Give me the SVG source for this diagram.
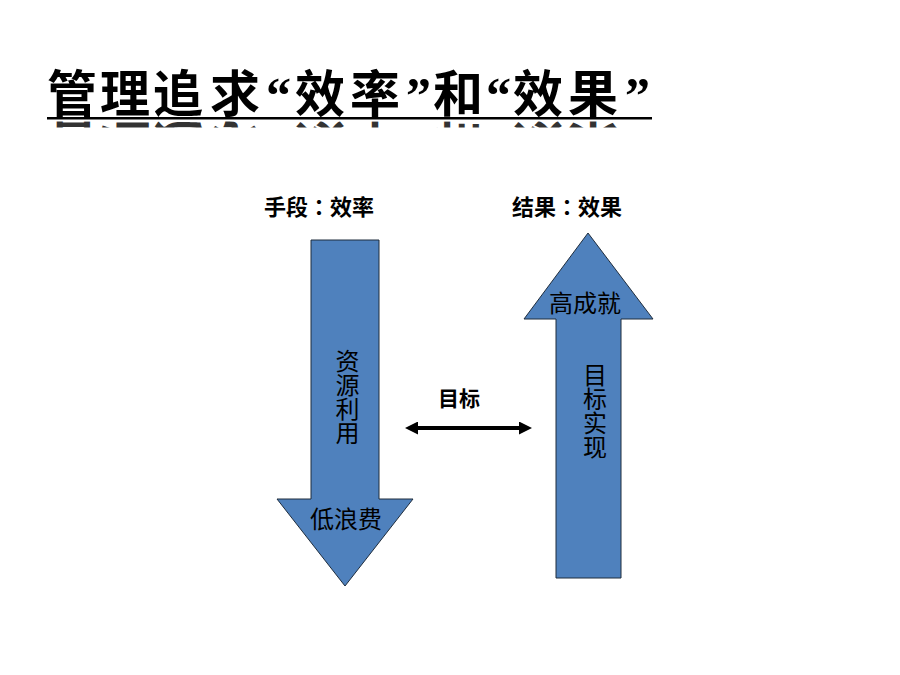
<svg xmlns="http://www.w3.org/2000/svg" xmlns:xlink="http://www.w3.org/1999/xlink" width="900" height="675" viewBox="0 0 900 675">
  <style>
    .cjk { font-family: "Noto Sans CJK SC", "Noto Sans", sans-serif; fill: #000; }
    .title { font-size: 50px; font-weight: 700; }
    .q { font-family: "Liberation Serif", "Noto Sans CJK SC", serif; font-weight: 700; }
    .colon { font-family: "Noto Sans CJK TC", "Noto Sans CJK SC", sans-serif; }
    .sub { font-size: 22px; font-weight: 700; }
    .lbl { font-size: 24px; font-weight: 400; }
    .vert { writing-mode: vertical-rl; text-orientation: upright; }
    .bold21 { font-size: 21px; font-weight: 700; }
    .arrow { fill: #4F81BD; stroke: #1f2d3d; stroke-width: 1; }
    .conn { stroke: #000; stroke-width: 4; fill: none; }
  </style>
  <defs>
    <marker id="head" viewBox="0 0 13 13" refX="3" refY="6.5" markerWidth="13" markerHeight="13" markerUnits="userSpaceOnUse" orient="auto-start-reverse">
      <path d="M0,0 L13,6.5 L0,13 Z" fill="#000"/>
    </marker>
    <clipPath id="reflClip">
      <rect x="0" y="121.5" width="900" height="6"/>
    </clipPath>
  </defs>
  <rect width="900" height="675" fill="#fff"/>

  <g id="title">
    <text id="titleText" class="cjk title" y="112">
      <tspan x="47">管</tspan><tspan x="100">理</tspan><tspan x="153">追</tspan><tspan x="210">求</tspan><tspan class="q" x="266">“</tspan><tspan x="295">效</tspan><tspan x="350">率</tspan><tspan class="q" x="406">”</tspan><tspan x="433">和</tspan><tspan class="q" x="486">“</tspan><tspan x="513">效</tspan><tspan x="568">果</tspan><tspan class="q" x="625">”</tspan>
    </text>
    <rect x="47" y="117" width="605" height="2.5" fill="#000"/>
    <g clip-path="url(#reflClip)" opacity="0.8">
      <use xlink:href="#titleText" href="#titleText" transform="translate(0,238) scale(1,-1)"/>
    </g>
  </g>

  <g id="means-label">
    <text class="cjk sub" x="264" y="215">手段<tspan class="colon">：</tspan>效率</text>
  </g>
  <g id="result-label">
    <text class="cjk sub" x="512" y="215">结果<tspan class="colon">：</tspan>效果</text>
  </g>

  <g id="efficiency-arrow">
    <polygon class="arrow" points="311,240 379,240 379,499 413,499 345,586 277,499 311,499"/>
    <text class="cjk lbl vert" x="347.5" y="349">资源利用</text>
    <text class="cjk lbl" x="310" y="528">低浪费</text>
  </g>

  <g id="effect-arrow">
    <polygon class="arrow" points="588,233 653,319 621,319 621,578 556,578 556,319 524,319"/>
    <text class="cjk lbl" x="549" y="312">高成就</text>
    <text class="cjk lbl vert" x="595" y="363">目标实现</text>
  </g>

  <g id="connectors">
    <line class="conn" x1="415" y1="428" x2="522" y2="428" marker-start="url(#head)" marker-end="url(#head)"/>
    <text class="cjk bold21" x="438" y="406">目标</text>
  </g>
</svg>
